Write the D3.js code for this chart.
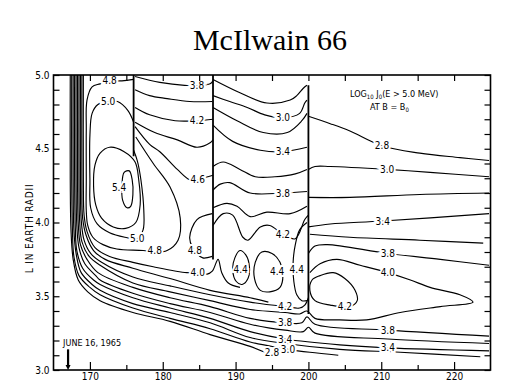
<!DOCTYPE html>
<html>
<head>
<meta charset="utf-8">
<script src="https://cdn.jsdelivr.net/npm/d3@7"></script>
<style>
  body { margin: 0; background: #fff; }
  svg { display: block; }
  .lettering { font-family: "DejaVu Sans Condensed", "Liberation Sans Narrow", sans-serif; font-size: 9px; fill: #000; }
</style>
</head>
<body>
<svg id="chart" width="512" height="384"></svg>
<script>
// ---- data: contours as [day of 1965, L] ----
var chartTitle = "McIlwain 66";
var dayTicks = [170, 180, 190, 200, 210, 220];
var dayMinorTicks = [175, 185, 195, 205, 215];
var lTickLabels = [3.0, 3.5, 4.0, 4.5, 5.0];
var startDay = 167; // June 16, 1965

// wall of contours along low L, 2.8 (outermost) .. 4.4
var edge28 = [[167.3,5.00],[167.3,4.29],[167.4,3.95],[167.7,3.75],[168.4,3.61],[169.7,3.53],[171.4,3.47],[175.9,3.39],[181.0,3.33],[186.5,3.24],[192.0,3.16],[194.0,3.12]];
var edge30 = [[167.5,5.00],[167.5,4.29],[167.6,3.95],[167.8,3.77],[168.5,3.64],[170.0,3.56],[171.4,3.51],[175.9,3.42],[181.0,3.35],[186.5,3.28],[192.0,3.19],[196.1,3.15],[197.2,3.14],[200.2,3.12],[204.1,3.10]];
var edge32 = [[167.7,5.00],[167.7,4.29],[167.8,3.95],[168.1,3.79],[168.8,3.66],[170.3,3.58],[171.4,3.54],[175.9,3.45],[181.0,3.39],[186.5,3.32],[192.0,3.22],[196.8,3.18],[204.3,3.14],[212.6,3.12],[223.6,3.09]];
var edge34 = [[167.9,5.00],[167.9,4.29],[168.0,3.96],[168.2,3.81],[169.0,3.69],[170.5,3.61],[171.4,3.58],[175.9,3.49],[181.0,3.42],[186.5,3.35],[192.0,3.26],[196.8,3.21],[204.3,3.17],[210.9,3.15],[224.8,3.13]];
var edge36 = [[168.1,5.00],[168.1,4.29],[168.2,3.98],[168.5,3.83],[169.3,3.72],[170.8,3.64],[171.4,3.61],[175.9,3.52],[181.0,3.45],[186.5,3.39],[192.0,3.31],[196.8,3.27],[199.3,3.26],[200.0,3.29],[200.9,3.25],[210.9,3.21],[224.8,3.18]];
var edge38 = [[168.3,5.00],[168.3,4.29],[168.4,3.99],[168.7,3.85],[169.6,3.75],[171.1,3.66],[175.9,3.56],[181.0,3.49],[186.5,3.43],[192.0,3.35],[196.8,3.32],[199.1,3.32],[199.8,3.36],[200.9,3.31],[210.9,3.27],[224.8,3.23]];
var edge40 = [[168.5,5.00],[168.5,4.29],[168.6,4.00],[168.9,3.87],[169.9,3.77],[171.4,3.71],[175.9,3.59],[181.0,3.53],[186.5,3.47],[192.0,3.41],[196.8,3.39],[198.8,3.38],[199.8,3.40],[200.9,3.35],[204.3,3.34],[208.0,3.34],[212.6,3.39],[218.1,3.43],[222.6,3.46],[220.8,3.51],[216.7,3.56],[214.0,3.61],[210.9,3.66],[207.1,3.71],[203.9,3.75],[201.6,3.72],[200.2,3.66]];
var edge42 = [[168.7,5.00],[168.7,4.29],[168.8,4.02],[169.2,3.88],[170.1,3.79],[171.6,3.73],[175.9,3.63],[181.0,3.57],[186.5,3.51],[192.0,3.46],[196.8,3.43],[198.8,3.42],[199.5,3.44],[200.0,3.49]];
var edge44 = [[168.9,5.00],[168.9,4.29],[169.0,4.03],[169.5,3.91],[170.5,3.81],[172.1,3.75],[175.9,3.69],[181.0,3.62],[186.5,3.54],[192.0,3.49],[194.5,3.46]];
var edgeTop = [[169.1,5.00],[169.1,4.29],[169.2,4.05],[169.6,3.94],[170.7,3.83],[172.7,3.77],[175.9,3.73],[178.7,3.70],[183.3,3.66],[184.8,3.66],[186.1,3.65],[186.8,3.67],[187.6,3.75],[188.1,3.66],[189.0,3.59],[190.6,3.56]];

// the maximum near day 175
var west48 = [[176.0,4.97],[174.4,4.96],[172.7,4.96],[171.4,4.94],[170.3,4.92],[169.6,4.83],[169.5,4.63],[169.5,4.29],[169.5,4.08],[169.7,3.98],[170.4,3.90],[171.8,3.85],[173.7,3.82],[177.3,3.81],[178.9,3.80],[180.6,3.81],[182.1,3.88],[182.4,4.03],[181.0,4.24],[178.7,4.40],[176.3,4.58]];
var west50 = [[176.0,4.68],[175.2,4.76],[173.8,4.82],[172.5,4.82],[171.1,4.80],[170.3,4.74],[170.0,4.59],[170.0,4.29],[170.1,4.10],[171.0,3.99],[172.7,3.93],[174.8,3.90],[176.5,3.89],[177.3,3.95],[177.4,4.08],[177.0,4.29],[176.5,4.42],[176.0,4.49]];
var west52 = [[172.7,4.51],[171.4,4.47],[170.7,4.39],[170.5,4.25],[170.8,4.12],[171.6,4.03],[173.2,3.97],[174.9,3.96],[176.3,4.00],[176.9,4.12],[176.7,4.29],[176.2,4.41],[174.7,4.48]];
var west54 = [[174.7,4.34],[175.4,4.35],[175.8,4.29],[175.9,4.19],[175.6,4.11],[175.1,4.10],[174.5,4.15],[174.4,4.25]];

// days 176-187
var mid38 = [[176.2,4.99],[179.6,4.95],[183.0,4.93],[184.7,4.93],[186.5,4.94],[186.9,4.96]];
var mid40 = [[176.2,4.90],[178.2,4.86],[180.6,4.84],[183.7,4.82],[186.8,4.82]];
var mid42 = [[176.2,4.78],[178.2,4.73],[181.7,4.69],[184.7,4.69],[186.9,4.70]];
var mid44 = [[176.2,4.68],[178.9,4.61],[182.0,4.56],[184.7,4.51],[186.5,4.54],[186.9,4.56]];
var mid46 = [[176.2,4.65],[178.2,4.53],[179.6,4.48],[182.0,4.36],[183.7,4.29],[184.8,4.29],[186.2,4.31],[186.9,4.32]];
var mid48 = [[186.8,4.06],[184.7,4.02],[183.7,3.90],[184.1,3.83],[185.5,3.76],[186.8,3.77]];

// days 187-200
var east28 = [[186.9,4.97],[190.6,4.88],[194.3,4.81],[197.5,4.83],[198.4,4.86],[199.3,4.91],[199.8,4.93]];
var east30 = [[186.9,4.86],[189.2,4.82],[191.6,4.78],[194.0,4.73],[196.5,4.71],[198.8,4.74],[199.5,4.81],[199.8,4.83]];
var east32 = [[186.9,4.78],[190.2,4.69],[193.8,4.61],[197.1,4.61],[199.1,4.69],[199.8,4.74]];
var east34 = [[186.9,4.66],[189.6,4.55],[193.4,4.49],[196.5,4.48],[199.8,4.51]];
var east36 = [[186.9,4.38],[188.3,4.41],[190.6,4.36],[192.7,4.31],[195.4,4.31],[198.2,4.33],[199.8,4.36]];
var east38 = [[186.9,4.22],[187.9,4.26],[189.2,4.27],[192.0,4.20],[196.5,4.20],[199.8,4.21]];
var east40 = [[186.9,4.10],[188.8,4.13],[190.2,4.11],[192.0,4.04],[194.3,4.07],[197.5,4.06],[199.8,4.11]];
var east42 = [[186.9,3.98],[188.3,4.06],[189.6,4.05],[191.0,3.90],[191.7,3.88],[193.4,3.97],[194.7,3.98],[196.5,3.92],[198.2,3.89],[199.5,4.02],[200.0,4.05]];
var east44a = [[189.9,3.76],[190.6,3.81],[191.4,3.78],[191.9,3.70],[191.7,3.62],[190.9,3.58],[190.1,3.60],[189.6,3.68]];
var east44b = [[192.7,3.73],[193.6,3.80],[195.0,3.79],[196.1,3.73],[196.5,3.64],[196.1,3.56],[194.7,3.53],[193.4,3.54],[192.6,3.62]];
var east44c = [[199.8,4.00],[198.8,3.95],[198.2,3.85],[197.9,3.73],[198.0,3.60],[198.4,3.51],[199.1,3.47],[199.8,3.47]];

// after day 200
var late28 = [[200.0,4.72],[203.0,4.67],[205.7,4.62],[210.1,4.52],[215.3,4.47],[220.8,4.44],[224.8,4.42]];
var late30 = [[200.0,4.36],[200.9,4.38],[203.0,4.38],[210.8,4.36],[216.7,4.34],[224.8,4.31]];
var late32 = [[200.0,4.17],[205.7,4.17],[215.3,4.19],[224.8,4.20]];
var late34 = [[200.0,3.97],[203.0,3.99],[210.2,4.01],[224.8,4.06]];
var late36 = [[200.2,3.92],[205.7,3.90],[215.3,3.88],[224.0,3.86]];
var late38 = [[200.0,3.79],[200.9,3.84],[202.6,3.85],[210.9,3.79],[218.1,3.75],[224.8,3.71]];
var late42 = [[201.6,3.64],[203.4,3.66],[205.0,3.62],[206.4,3.54],[206.7,3.47],[205.7,3.43],[203.0,3.44],[200.9,3.47],[200.2,3.54],[200.5,3.61]];

// data gaps drawn as vertical bars: [day, L bottom, L top]
var gapBars = [[176.0, 4.45, 5.0], [186.9, 3.75, 5.0], [200.0, 3.38, 4.93]];

// contour value labels: text, day, L
var labelText = ["4.8","5.0","5.4","5.0","4.8","4.8","4.0","3.8","4.2","4.6","3.0","3.4","3.8","4.2","4.4","4.4","4.4","4.2","3.8","3.4","3.0","2.8","2.8","3.0","3.4","3.8","4.0","4.2","3.8","3.4"];
var labelDay  = [172.7,172.5,174.0,176.5,178.9,184.4,184.8,184.7,184.7,184.8,196.5,196.5,196.5,196.5,190.7,195.7,198.4,196.8,196.8,196.8,197.2,195.0,210.1,210.8,210.2,210.9,210.9,205.0,210.9,210.9];
var labelL    = [4.96,4.82,4.24,3.89,3.81,3.81,3.66,4.93,4.69,4.29,4.71,4.48,4.20,3.92,3.68,3.67,3.68,3.43,3.32,3.21,3.14,3.12,4.52,4.36,4.01,3.79,3.66,3.43,3.27,3.15];

var openLines = [edge28, edge30, edge32, edge34, edge36, edge38, edge40, edge42, edge44, edgeTop,
                 west48, west50, mid38, mid40, mid42, mid44, mid46, mid48,
                 east28, east30, east32, east34, east36, east38, east40, east42, east44c,
                 late28, late30, late32, late34, late36, late38];
var closedLines = [west52, west54, east44a, east44b, late42];

// ---- drawing ----
var svg = d3.select("#chart");
var x = d3.scaleLinear().domain([165, 225]).range([53.5, 490.5]);
var y = d3.scaleLinear().domain([3, 5]).range([370, 75]);

svg.append("text")
    .attr("x", 270).attr("y", 50)
    .attr("text-anchor", "middle")
    .style("font-family", '"Liberation Serif", "DejaVu Serif", serif')
    .style("font-size", "30px")
    .text(chartTitle);

svg.append("clipPath").attr("id", "plotClip")
    .append("rect")
    .attr("x", x(165)).attr("y", y(5))
    .attr("width", x(225) - x(165)).attr("height", y(3) - y(5));

var g = svg.append("g").attr("clip-path", "url(#plotClip)");

var openPath = d3.line().x(function (d) { return x(d[0]); }).y(function (d) { return y(d[1]); })
    .curve(d3.curveCatmullRom.alpha(0.5));
var closedPath = d3.line().x(function (d) { return x(d[0]); }).y(function (d) { return y(d[1]); })
    .curve(d3.curveCatmullRomClosed.alpha(0.5));

g.selectAll("path.open").data(openLines).enter().append("path")
    .attr("class", "open")
    .attr("d", openPath)
    .attr("fill", "none").attr("stroke", "#000").attr("stroke-width", 1.15);

g.selectAll("path.closed").data(closedLines).enter().append("path")
    .attr("class", "closed")
    .attr("d", closedPath)
    .attr("fill", "none").attr("stroke", "#000").attr("stroke-width", 1.15);

g.selectAll("line.gap").data(gapBars).enter().append("line")
    .attr("class", "gap")
    .attr("x1", function (d) { return x(d[0]); }).attr("x2", function (d) { return x(d[0]); })
    .attr("y1", function (d) { return y(d[1]); }).attr("y2", function (d) { return y(d[2]); })
    .attr("stroke", "#000").attr("stroke-width", 1.8);

// contour labels, white halo breaks the line under them
var labels = labelText.map(function (t, i) { return { t: t, d: labelDay[i], l: labelL[i] }; });
g.selectAll("text.val").data(labels).enter().append("text")
    .attr("class", "val lettering")
    .attr("x", function (d) { return x(d.d); })
    .attr("y", function (d) { return y(d.l); })
    .attr("dy", "0.35em")
    .attr("text-anchor", "middle")
    .style("font-size", "10px")
    .attr("stroke", "#fff").attr("stroke-width", 4).attr("paint-order", "stroke")
    .text(function (d) { return d.t; });

// axes, ticks pointing inwards
function styleAxis(sel) {
    sel.select(".domain").remove();
    sel.selectAll(".tick line").attr("stroke", "#000").attr("stroke-width", 1.2);
    sel.selectAll(".tick text").attr("class", "lettering").style("font-size", "10px");
}
var lTicks = d3.range(30, 51).map(function (v) { return v / 10; });
svg.append("g").attr("transform", "translate(" + x(165) + ",0)")
    .call(d3.axisLeft(y).tickValues(lTicks).tickSize(-6).tickPadding(4)
        .tickFormat(function (v) { return lTickLabels.some(function (t) { return Math.abs(t - v) < 1e-6; }) ? v.toFixed(1) : ""; }))
    .call(styleAxis);
svg.append("g").attr("transform", "translate(" + x(225) + ",0)")
    .call(d3.axisRight(y).tickValues(lTicks).tickSize(-6).tickFormat(""))
    .call(styleAxis);
svg.append("g").attr("transform", "translate(0," + y(3) + ")")
    .call(d3.axisBottom(x).tickValues(dayTicks).tickSize(-8).tickPadding(3).tickFormat(d3.format("d")))
    .call(styleAxis);
svg.append("g").attr("transform", "translate(0," + y(3) + ")")
    .call(d3.axisBottom(x).tickValues(dayMinorTicks).tickSize(-5).tickFormat(""))
    .call(styleAxis);
svg.append("g").attr("transform", "translate(0," + y(5) + ")")
    .call(d3.axisTop(x).tickValues(dayTicks.concat(dayMinorTicks)).tickSize(-6).tickFormat(""))
    .call(styleAxis);

svg.append("rect")
    .attr("x", x(165)).attr("y", y(5))
    .attr("width", x(225) - x(165)).attr("height", y(3) - y(5))
    .attr("fill", "none").attr("stroke", "#000").attr("stroke-width", 1.6);

// axis title
svg.append("text")
    .attr("class", "lettering")
    .attr("transform", "translate(33," + y(3.96) + ") rotate(-90)")
    .attr("text-anchor", "middle")
    .style("font-size", "10px")
    .style("letter-spacing", "0.8px")
    .text("L IN EARTH RADII");

// start date marker
svg.append("line")
    .attr("x1", x(startDay)).attr("x2", x(startDay))
    .attr("y1", y(3.14)).attr("y2", y(3.0) - 3)
    .attr("stroke", "#000").attr("stroke-width", 2.2);
svg.append("path")
    .attr("d", "M" + (x(startDay) - 2.5) + "," + (y(3.0) - 5) + "L" + (x(startDay) + 2.5) + "," + (y(3.0) - 5) + "L" + x(startDay) + "," + y(3.0) + "Z")
    .attr("fill", "#000");
svg.append("text")
    .attr("class", "lettering")
    .attr("x", x(startDay) - 5).attr("y", y(3.16))
    .text("JUNE 16, 1965");

// quantity note
var note = svg.append("text").attr("class", "lettering").attr("x", 350).attr("y", 97);
note.append("tspan").text("LOG");
note.append("tspan").attr("dy", 2).style("font-size", "6px").text("10");
note.append("tspan").attr("dy", -2).text(" J");
note.append("tspan").attr("dy", 2).style("font-size", "6px").text("0");
note.append("tspan").attr("dy", -2).text("(E > 5.0 MeV)");
var note2 = svg.append("text").attr("class", "lettering").attr("x", 370).attr("y", 110);
note2.append("tspan").text("AT  B = B");
note2.append("tspan").attr("dy", 2).style("font-size", "6px").text("0");
</script>
</body>
</html>
